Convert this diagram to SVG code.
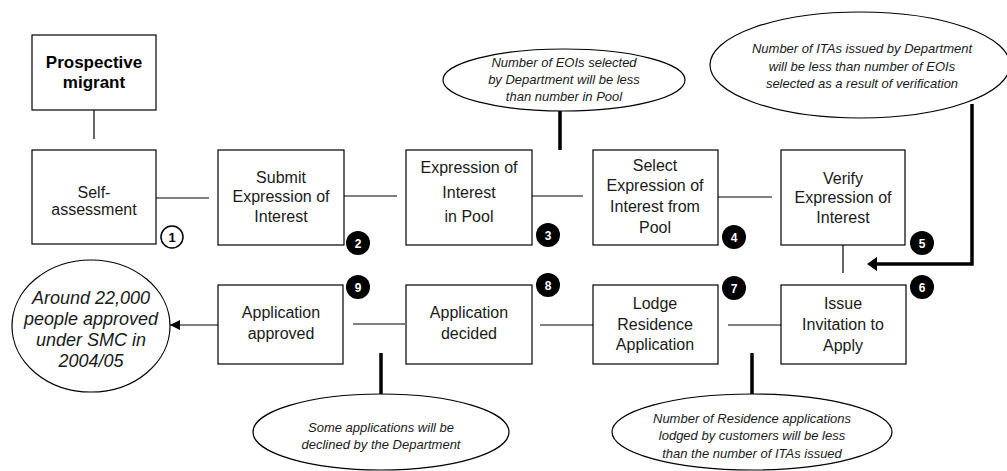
<svg xmlns="http://www.w3.org/2000/svg" width="1007" height="471" viewBox="0 0 1007 471">
<style>
.box{fill:#fff;stroke:#000;stroke-width:1.2}
.t{font-family:"Liberation Sans",Arial,sans-serif;font-size:16px;fill:#1a1a1a;text-anchor:middle}
.b{font-weight:bold;font-size:17px;fill:#000}
.n{font-family:"Liberation Sans",Arial,sans-serif;font-size:13px;font-style:italic;fill:#1a1a1a;text-anchor:middle}
.big{font-size:18px}
.ell{fill:#fff;stroke:#000;stroke-width:1.2}
.ln{stroke:#000;stroke-width:1.2;fill:none}
.thick{stroke:#000;stroke-width:3.5;fill:none}
.dot{fill:#000}
.dn{font-family:"Liberation Sans",Arial,sans-serif;font-size:12px;font-weight:bold;fill:#fff;text-anchor:middle}
</style>
<defs>
<marker id="ah" viewBox="0 0 10 10" refX="10" refY="5" markerWidth="10" markerHeight="10" markerUnits="userSpaceOnUse" orient="auto">
<path d="M0,0 L10,5 L0,10 Z" fill="#000"/>
</marker>
<marker id="ah2" viewBox="0 0 10 12" refX="9" refY="6" markerWidth="9" markerHeight="12" markerUnits="userSpaceOnUse" orient="auto">
<path d="M0,0 L9,6 L0,12 Z" fill="#000"/>
</marker>
</defs>
<rect width="1007" height="471" fill="#fff"/>

<g id="connectors">
<line class="ln" x1="94" y1="110" x2="94" y2="139"/>
<line class="ln" x1="156" y1="198" x2="209" y2="198"/>
<line class="ln" x1="344" y1="196" x2="397" y2="196"/>
<line class="ln" x1="532" y1="196" x2="583" y2="196"/>
<line class="ln" x1="718" y1="197" x2="772" y2="197"/>
<line class="ln" x1="843" y1="245" x2="843" y2="273"/>
<line class="ln" x1="781" y1="325" x2="728" y2="325"/>
<line class="ln" x1="593" y1="325" x2="540" y2="325"/>
<line class="ln" x1="405" y1="324" x2="353" y2="324"/>
<line class="ln" x1="218" y1="325" x2="170" y2="325" marker-end="url(#ah)"/>
<line class="thick" x1="560" y1="111" x2="560" y2="150"/>
<polyline class="thick" points="972,104 972,264 875,264"/>
<path d="M867,264 L877,257 L877,271 Z" fill="#000"/>
<line class="thick" x1="381" y1="353" x2="381" y2="394"/>
<line class="thick" x1="752" y1="353" x2="752" y2="394"/>
</g>

<g id="prospective">
<rect class="box" x="32" y="35" width="124" height="75"/>
<text class="t b" x="94" y="68">Prospective</text>
<text class="t b" x="94" y="88">migrant</text>
</g>

<g id="self">
<rect class="box" x="32" y="150" width="124" height="94"/>
<text class="t" x="94" y="198">Self-</text>
<text class="t" x="94" y="215">assessment</text>
<circle cx="172" cy="237" r="11" fill="#fff" stroke="#000" stroke-width="1.5"/>
<text x="172" y="242" font-family="Liberation Sans,Arial,sans-serif" font-size="13" font-weight="bold" text-anchor="middle">1</text>
</g>

<g id="submit">
<rect class="box" x="218" y="150" width="126" height="95"/>
<text class="t" x="281" y="183">Submit</text>
<text class="t" x="281" y="202">Expression of</text>
<text class="t" x="281" y="222">Interest</text>
<circle class="dot" cx="358" cy="243" r="12"/>
<text class="dn" x="358" y="248">2</text>
</g>

<g id="pool">
<rect class="box" x="406" y="150" width="126" height="95"/>
<text class="t" x="469" y="173">Expression of</text>
<text class="t" x="469" y="198">Interest</text>
<text class="t" x="469" y="222">in Pool</text>
<circle class="dot" cx="548" cy="235" r="12"/>
<text class="dn" x="548" y="240">3</text>
</g>

<g id="select">
<rect class="box" x="593" y="150" width="125" height="95"/>
<text class="t" x="655" y="171">Select</text>
<text class="t" x="655" y="191">Expression of</text>
<text class="t" x="655" y="212">Interest from</text>
<text class="t" x="655" y="233">Pool</text>
<circle class="dot" cx="734" cy="237" r="12"/>
<text class="dn" x="734" y="242">4</text>
</g>

<g id="verify">
<rect class="box" x="781" y="150" width="124" height="95"/>
<text class="t" x="843" y="184">Verify</text>
<text class="t" x="843" y="203">Expression of</text>
<text class="t" x="843" y="223">Interest</text>
<circle class="dot" cx="922" cy="243" r="12"/>
<text class="dn" x="922" y="248">5</text>
</g>

<g id="issue">
<rect class="box" x="781" y="285" width="125" height="79"/>
<text class="t" x="843" y="309">Issue</text>
<text class="t" x="843" y="330">Invitation to</text>
<text class="t" x="843" y="351">Apply</text>
<circle class="dot" cx="922" cy="287" r="12"/>
<text class="dn" x="922" y="292">6</text>
</g>

<g id="lodge">
<rect class="box" x="593" y="285" width="125" height="79"/>
<text class="t" x="655" y="309">Lodge</text>
<text class="t" x="655" y="330">Residence</text>
<text class="t" x="655" y="350">Application</text>
<circle class="dot" cx="734" cy="288" r="12"/>
<text class="dn" x="734" y="293">7</text>
</g>

<g id="decided">
<rect class="box" x="406" y="285" width="126" height="79"/>
<text class="t" x="469" y="318">Application</text>
<text class="t" x="469" y="339">decided</text>
<circle class="dot" cx="548" cy="285" r="12"/>
<text class="dn" x="548" y="290">8</text>
</g>

<g id="approved">
<rect class="box" x="218" y="285" width="125" height="79"/>
<text class="t" x="281" y="318">Application</text>
<text class="t" x="281" y="339">approved</text>
<circle class="dot" cx="358" cy="287" r="12"/>
<text class="dn" x="358" y="292">9</text>
</g>

<g id="note-pool">
<ellipse class="ell" cx="564" cy="80" rx="121" ry="31"/>
<text class="n" x="564" y="67">Number of EOIs selected</text>
<text class="n" x="564" y="84">by Department will be less</text>
<text class="n" x="564" y="101">than number in Pool</text>
</g>

<g id="note-ita">
<ellipse class="ell" cx="860" cy="65" rx="150" ry="53"/>
<text class="n" x="862" y="53">Number of ITAs issued by Department</text>
<text class="n" x="862" y="71">will be less than number of EOIs</text>
<text class="n" x="862" y="88">selected as a result of verification</text>
</g>

<g id="note-result">
<ellipse class="ell" cx="91" cy="326" rx="79" ry="66"/>
<text class="n big" x="91" y="304">Around 22,000</text>
<text class="n big" x="91" y="325">people approved</text>
<text class="n big" x="91" y="346">under SMC in</text>
<text class="n big" x="91" y="367">2004/05</text>
</g>

<g id="note-declined">
<ellipse class="ell" cx="381" cy="432" rx="128" ry="38"/>
<text class="n" x="381" y="432">Some applications will be</text>
<text class="n" x="381" y="449">declined by the Department</text>
</g>

<g id="note-lodged">
<ellipse class="ell" cx="752" cy="432" rx="140" ry="38"/>
<text class="n" x="752" y="423">Number of Residence applications</text>
<text class="n" x="752" y="440">lodged by customers will be less</text>
<text class="n" x="752" y="458">than the number of ITAs issued</text>
</g>
</svg>
